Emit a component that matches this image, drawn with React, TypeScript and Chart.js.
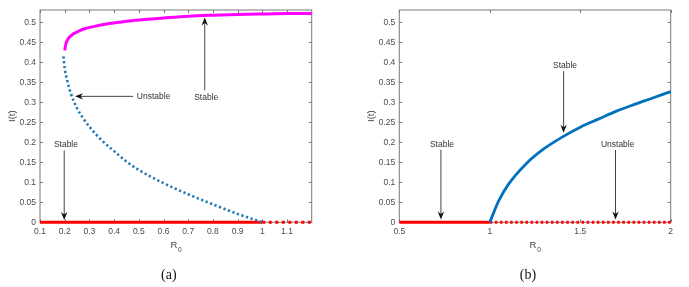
import React, { useEffect, useRef } from 'react';
import { Chart, registerables } from 'chart.js';
Chart.register(...registerables);

// ---------- Panel (a) data ----------
const aUpperR0 = [0.2, 0.205, 0.215, 0.23, 0.25, 0.28, 0.32, 0.37, 0.43, 0.5, 0.6, 0.7, 0.8, 0.9, 1.0, 1.1, 1.2];
const aUpperI = [0.43, 0.447, 0.46, 0.469, 0.476, 0.484, 0.49, 0.496, 0.501, 0.506, 0.511, 0.5155, 0.518, 0.5198, 0.521, 0.522, 0.5225];
const aUnstableR0 = [0.195, 0.2, 0.21, 0.225, 0.25, 0.275, 0.3, 0.35, 0.4, 0.45, 0.5, 0.6, 0.7, 0.8, 0.9, 1.0];
const aUnstableI = [0.415, 0.385, 0.355, 0.322, 0.285, 0.26, 0.239, 0.205, 0.178, 0.152, 0.131, 0.098, 0.07, 0.045, 0.021, 0];
const aZeroStableR0 = [0.1, 1.0];
const aZeroUnstableR0 = [1.0, 1.2];
const aXTicks = [0.1, 0.2, 0.3, 0.4, 0.5, 0.6, 0.7, 0.8, 0.9, 1.0, 1.1];
const aXTickLabels = ['0.1', '0.2', '0.3', '0.4', '0.5', '0.6', '0.7', '0.8', '0.9', '1', '1.1'];
const aXRange = [0.1, 1.2];

// ---------- Panel (b) data ----------
const bBranchR0 = [1.0, 1.05, 1.1, 1.2, 1.3, 1.4, 1.5, 1.6, 1.7, 1.8, 1.9, 2.0];
const bBranchI = [0, 0.054, 0.093, 0.146, 0.184, 0.213, 0.238, 0.258, 0.278, 0.295, 0.311, 0.327];
const bZeroStableR0 = [0.5, 1.0];
const bZeroUnstableR0 = [1.0, 2.0];
const bXTicks = [0.5, 1, 1.5, 2];
const bXTickLabels = ['0.5', '1', '1.5', '2'];
const bXRange = [0.5, 2];

// ---------- Shared y axis ----------
const yTicks = [0, 0.05, 0.1, 0.15, 0.2, 0.25, 0.3, 0.35, 0.4, 0.45, 0.5];
const yTickLabels = ['0', '0.05', '0.1', '0.15', '0.2', '0.25', '0.3', '0.35', '0.4', '0.45', '0.5'];
const yRange = [0, 0.531];

// ---------- Annotations (data coordinates) ----------
const aNoteText = ['Unstable', 'Stable', 'Stable'];
const aNoteX = [0.56, 0.773, 0.205];
const aNoteY = [0.314, 0.313, 0.195];
const aArrowFrom = [[0.477, 0.315], [0.767, 0.33], [0.198, 0.18]];
const aArrowTo = [[0.242, 0.315], [0.767, 0.512], [0.198, 0.006]];

const bNoteText = ['Stable', 'Stable', 'Unstable'];
const bNoteX = [1.416, 0.736, 1.707];
const bNoteY = [0.393, 0.195, 0.195];
const bArrowFrom = [[1.408, 0.378], [0.73, 0.181], [1.695, 0.181]];
const bArrowTo = [[1.408, 0.224], [0.73, 0.007], [1.695, 0.007]];

const pts = (xs: number[], ys: number[]) => xs.map((x, i) => ({ x, y: ys[i] }));
const zeros = (xs: number[]) => xs.map((x) => ({ x, y: 0 }));

type PanelCfg = {
  datasets: any[];
  xTicks: number[];
  xTickLabels: string[];
  xRange: number[];
  yAxisWidth: number;
  padRight: number;
  noteText: string[];
  noteX: number[];
  noteY: number[];
  arrowFrom: number[][];
  arrowTo: number[][];
  caption: string;
};

function drawArrow(ctx: CanvasRenderingContext2D, x1: number, y1: number, x2: number, y2: number) {
  const ang = Math.atan2(y2 - y1, x2 - x1);
  const len = 8, half = 3.2, back = 2.5;
  ctx.save();
  ctx.strokeStyle = '#444';
  ctx.lineWidth = 1;
  ctx.beginPath();
  ctx.moveTo(x1, y1);
  ctx.lineTo(x2 - Math.cos(ang) * 4, y2 - Math.sin(ang) * 4);
  ctx.stroke();
  const c = Math.cos(ang), s = Math.sin(ang);
  const bx = x2 - c * len, by = y2 - s * len;
  ctx.fillStyle = '#111';
  ctx.beginPath();
  ctx.moveTo(x2, y2);
  ctx.lineTo(bx - s * half, by + c * half);
  ctx.lineTo(x2 - c * (len - back), y2 - s * (len - back));
  ctx.lineTo(bx + s * half, by - c * half);
  ctx.closePath();
  ctx.fill();
  ctx.restore();
}

function makePlugin(cfg: PanelCfg) {
  return {
    id: 'matlabDecor',
    beforeDatasetsDraw(chart: any) {
      const { ctx, chartArea: a } = chart;
      const xs = chart.scales.x, ys = chart.scales.y;
      ctx.save();
      ctx.strokeStyle = '#7a7a7a';
      ctx.lineWidth = 1;
      ctx.strokeRect(a.left, a.top, a.right - a.left, a.bottom - a.top);
      ctx.beginPath();
      const tl = 3;
      cfg.xTicks.forEach((v) => {
        const px = Math.round(xs.getPixelForValue(v)) + 0.5;
        ctx.moveTo(px, a.bottom); ctx.lineTo(px, a.bottom - tl);
        ctx.moveTo(px, a.top); ctx.lineTo(px, a.top + tl);
      });
      yTicks.forEach((v) => {
        const py = Math.round(ys.getPixelForValue(v)) + 0.5;
        ctx.moveTo(a.left, py); ctx.lineTo(a.left + tl, py);
        ctx.moveTo(a.right, py); ctx.lineTo(a.right - tl, py);
      });
      ctx.stroke();
      ctx.restore();
    },
    afterDraw(chart: any) {
      const { ctx, chartArea: a } = chart;
      const xs = chart.scales.x, ys = chart.scales.y;
      ctx.save();
      // annotations
      ctx.fillStyle = '#333';
      ctx.font = '8.5px "Liberation Sans", Arial, sans-serif';
      ctx.textAlign = 'center';
      ctx.textBaseline = 'middle';
      cfg.noteText.forEach((t, i) => {
        ctx.fillText(t, xs.getPixelForValue(cfg.noteX[i]), ys.getPixelForValue(cfg.noteY[i]));
      });
      cfg.arrowFrom.forEach((f, i) => {
        const t = cfg.arrowTo[i];
        drawArrow(ctx, xs.getPixelForValue(f[0]), ys.getPixelForValue(f[1]), xs.getPixelForValue(t[0]), ys.getPixelForValue(t[1]));
      });
      // x label R0
      const cx = (a.left + a.right) / 2;
      ctx.fillStyle = '#444';
      ctx.font = '9.5px "Liberation Sans", Arial, sans-serif';
      ctx.textAlign = 'center';
      ctx.textBaseline = 'middle';
      ctx.fillText('R', cx - 2, 245);
      ctx.font = '6.5px "Liberation Sans", Arial, sans-serif';
      ctx.fillText('0', cx + 4, 250);
      // y label
      ctx.save();
      ctx.translate(a.left - 27.5, (a.top + a.bottom) / 2);
      ctx.rotate(-Math.PI / 2);
      ctx.font = '9.5px "Liberation Sans", Arial, sans-serif';
      ctx.fillText('I(t)', 0, 0);
      ctx.restore();
      // caption
      ctx.fillStyle = '#111';
      ctx.font = '14px "Liberation Serif", "Times New Roman", serif';
      ctx.fillText(cfg.caption, cx - 7, 275);
      ctx.restore();
    },
  };
}

function Panel({ cfg, left, width }: { cfg: PanelCfg; left: number; width: number }) {
  const ref = useRef<HTMLCanvasElement>(null);
  useEffect(() => {
    if (!ref.current) return;
    const chart = new Chart(ref.current, {
      type: 'scatter',
      data: { datasets: cfg.datasets },
      options: {
        animation: false,
        responsive: false,
        devicePixelRatio: 1,
        layout: { padding: { left: 0, right: cfg.padRight, top: 10, bottom: 0 } },
        plugins: { legend: { display: false }, tooltip: { enabled: false } },
        scales: {
          x: {
            type: 'linear',
            min: cfg.xRange[0],
            max: cfg.xRange[1],
            grid: { display: false, drawTicks: false },
            border: { display: false },
            afterFit: (s: any) => { s.height = 64.7; },
            afterBuildTicks: (s: any) => { s.ticks = cfg.xTicks.map((v) => ({ value: v })); },
            ticks: {
              autoSkip: false,
              maxRotation: 0,
              padding: 4,
              color: '#4a4a4a',
              font: { family: '"Liberation Sans", Arial, sans-serif', size: 8.5 },
              callback: (_v: any, i: number) => cfg.xTickLabels[i],
            },
          },
          y: {
            type: 'linear',
            min: yRange[0],
            max: yRange[1],
            grid: { display: false, drawTicks: false },
            border: { display: false },
            afterFit: (s: any) => { s.width = cfg.yAxisWidth; },
            afterBuildTicks: (s: any) => { s.ticks = yTicks.map((v) => ({ value: v })); },
            ticks: {
              autoSkip: false,
              padding: 4,
              color: '#4a4a4a',
              font: { family: '"Liberation Sans", Arial, sans-serif', size: 8.5 },
              callback: (_v: any, i: number) => yTickLabels[i],
            },
          },
        },
      } as any,
      plugins: [makePlugin(cfg)],
    });
    return () => chart.destroy();
  }, []);
  return (
    <canvas
      ref={ref}
      width={width}
      height={287}
      style={{ position: 'absolute', left, top: 0, width, height: 287 }}
    />
  );
}

const line = (data: any[], color: string, width: number, dash: number[] = []) => ({
  data,
  showLine: true,
  borderColor: color,
  backgroundColor: color,
  borderWidth: width,
  borderDash: dash,
  borderCapStyle: 'butt',
  pointRadius: 0,
  cubicInterpolationMode: 'monotone',
  clip: 6,
});

const panelA: PanelCfg = {
  datasets: [
    line(pts(aUnstableR0, aUnstableI), '#1f77b4', 2.6, [2.2, 2.6]),
    line(pts(aUpperR0, aUpperI), '#ff00ff', 3),
    line(zeros(aZeroStableR0), '#ff0000', 3),
    line(zeros(aZeroUnstableR0), '#ff0000', 3, [3, 3.5]),
  ],
  xTicks: aXTicks,
  xTickLabels: aXTickLabels,
  xRange: aXRange,
  yAxisWidth: 40,
  padRight: 28.3,
  noteText: aNoteText,
  noteX: aNoteX,
  noteY: aNoteY,
  arrowFrom: aArrowFrom,
  arrowTo: aArrowTo,
  caption: '(a)',
};

const panelB: PanelCfg = {
  datasets: [
    line(pts(bBranchR0, bBranchI), '#0072bd', 2.8),
    line(zeros(bZeroStableR0), '#ff0000', 3),
    line(zeros(bZeroUnstableR0), '#ff0000', 3, [2.5, 2.6]),
  ],
  xTicks: bXTicks,
  xTickLabels: bXTickLabels,
  xRange: bXRange,
  yAxisWidth: 59.3,
  padRight: 18.3,
  noteText: bNoteText,
  noteX: bNoteX,
  noteY: bNoteY,
  arrowFrom: bArrowFrom,
  arrowTo: bArrowTo,
  caption: '(b)',
};

export default function App() {
  return (
    <div style={{ position: 'fixed', left: 0, top: 0, width: 689, height: 287, background: '#fff' }}>
      <Panel cfg={panelA} left={0} width={340} />
      <Panel cfg={panelB} left={340} width={349} />
    </div>
  );
}
